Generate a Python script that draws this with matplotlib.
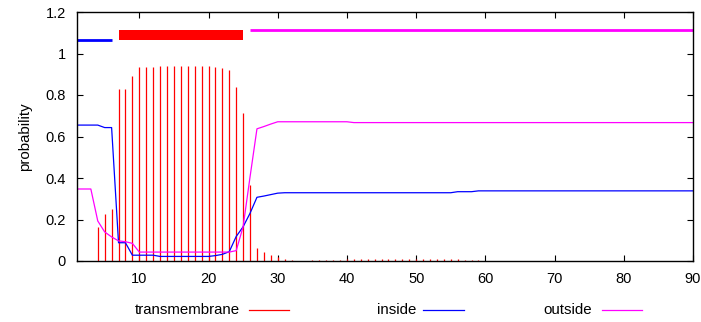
import matplotlib
matplotlib.use("Agg")
import matplotlib.pyplot as plt
from matplotlib.lines import Line2D
from matplotlib.patches import Rectangle
from matplotlib.ticker import FormatStrFormatter

plt.rcParams['font.family'] = ['Liberation Sans', 'DejaVu Sans']

# ---- data ----
positions = list(range(1, 91))
transmembrane = ([0, 0, 0, 0.165, 0.225, 0.249, 0.83, 0.83, 0.892, 0.937,
                  0.934, 0.936, 0.94, 0.94, 0.94, 0.94, 0.94, 0.94, 0.94, 0.94,
                  0.936, 0.93, 0.92, 0.838, 0.712, 0.366, 0.061, 0.042, 0.031, 0.021,
                  0.008, 0.006, 0, 0]
                 + [0.005] * 5 + [0.009] * 17 + [0.005] * 3 + [0] * 31)
inside = ([0.655, 0.655, 0.655, 0.655, 0.643, 0.643, 0.088, 0.088, 0.028, 0.028,
           0.028, 0.028] + [0.022] * 8 +
          [0.026, 0.032, 0.045, 0.118, 0.165, 0.23, 0.307, 0.313, 0.32, 0.327]
          + [0.329] * 25 + [0.334] * 3 + [0.338] * 32)
outside = ([0.347, 0.347, 0.347, 0.193, 0.14, 0.116, 0.097, 0.093, 0.085]
           + [0.043] * 14 +
           [0.05, 0.165, 0.405, 0.637, 0.648, 0.66, 0.671]
           + [0.671] * 10 + [0.667] * 50)

inside_seg = (1, 6)
tm_seg = (7, 25)
outside_seg = (26, 90)
xticks = [10, 20, 30, 40, 50, 60, 70, 80, 90]
yticks = [0, 0.2, 0.4, 0.6, 0.8, 1.0, 1.2]

RED = '#ff0000'
BLUE = '#0000ff'
MAG = '#ff00ff'

W, H = 701, 322
fig = plt.figure(figsize=(W / 100, H / 100), dpi=100)
ax = fig.add_axes([77 / W, 1 - 261 / H, (693 - 77) / W, (261 - 12) / H])

ax.vlines(positions, 0, transmembrane, color=RED, lw=0.9)
ax.plot(positions, inside, color=BLUE, lw=0.9)
ax.plot(positions, outside, color=MAG, lw=0.9)

# topology bars
ax.plot(inside_seg, [1.067, 1.067], color=BLUE, lw=2.0, solid_capstyle='butt')
ax.add_patch(Rectangle((tm_seg[0], 1.065), tm_seg[1] - tm_seg[0], 0.048,
                       facecolor=RED, edgecolor='none'))
ax.plot(outside_seg, [1.111, 1.111], color=MAG, lw=2.0, solid_capstyle='butt')

ax.set_xlim(1, 90)
ax.set_ylim(0, 1.2)
ax.set_xticks(xticks)
ax.set_yticks(yticks)
ax.yaxis.set_major_formatter(FormatStrFormatter('%g'))
ax.tick_params(direction='in', top=True, right=True, length=4, width=0.8,
               labelsize=10.5)
ax.tick_params(axis='x', pad=8)
ax.tick_params(axis='y', pad=8)
for s in ax.spines.values():
    s.set_linewidth(1.0)
ax.set_ylabel('probability', fontsize=10.8, labelpad=10)

# legend (gnuplot style: text then sample line)
ly = 1 - 310 / H
entries = [('transmembrane', RED, 240, 249, 289),
           ('inside', BLUE, 416, 423, 464),
           ('outside', MAG, 592, 602, 642)]
for label, col, tx, l0, l1 in entries:
    fig.text(tx / W, ly, label, ha='right', va='center', fontsize=10.8)
    fig.add_artist(Line2D([l0 / W, l1 / W], [ly, ly], color=col, lw=0.9,
                          transform=fig.transFigure))

fig.savefig('out.png', dpi=100)
